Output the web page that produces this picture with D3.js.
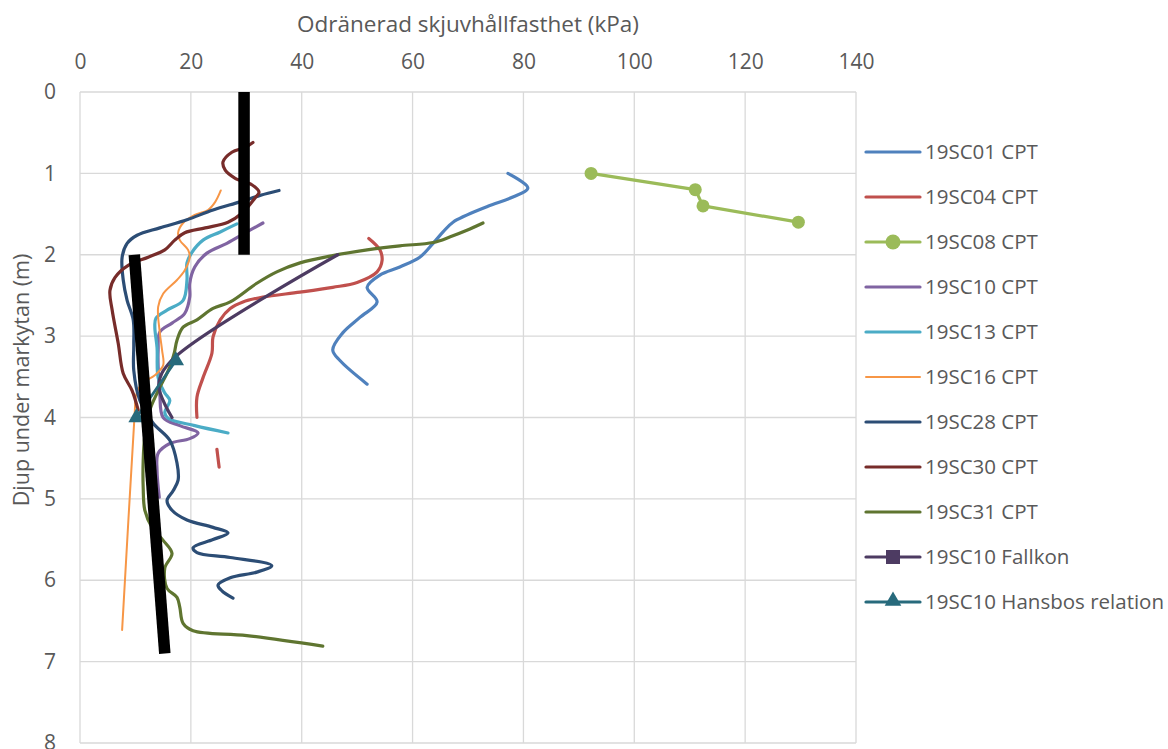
<!DOCTYPE html>
<html>
<head>
<meta charset="utf-8">
<script src="https://cdn.jsdelivr.net/npm/d3@7"></script>
<style>
  html,body{margin:0;padding:0;background:#fff;}
  svg{display:block;font-family:"Open Sans",sans-serif;}
  .tick text{fill:#595959;}
</style>
</head>
<body>
<svg id="chart" width="1168" height="749"></svg>
<script>
// depth (m), undrained shear strength (kPa)
const sc01 = [[1.00,77.2],[1.18,80.8],[1.29,78.1],[1.41,73.4],[1.60,67.3],[1.72,65.5],[1.86,63.7],[2.03,61.3],[2.15,57.7],[2.25,54.1],[2.40,51.8],[2.58,53.6],[2.77,50.5],[2.96,47.4],[3.17,45.6],[3.30,46.9],[3.59,51.8]];
const sc04 = [[1.80,52.1],[1.94,54.1],[2.07,54.5],[2.21,53.6],[2.34,50.0],[2.40,45.6],[2.46,39.7],[2.52,33.0],[2.58,29.4],[2.66,27.1],[2.80,25.3],[3.01,24.0],[3.21,23.8],[3.51,22.2],[3.75,21.1],[4.00,21.1],[4.20,null],[4.39,24.7],[4.61,25.1]];
const sc08 = [[1.0,92.2],[1.2,111.0],[1.4,112.4],[1.6,129.6]];
const sc10 = [[1.61,33.0],[1.72,30.1],[1.86,26.5],[1.98,22.9],[2.15,20.7],[2.35,19.8],[2.52,19.8],[2.72,18.9],[2.84,16.6],[2.95,14.4],[3.17,14.1],[3.38,14.1],[3.70,14.4],[4.00,15.0],[4.10,18.0],[4.19,21.3],[4.26,19.8],[4.32,16.2],[4.44,14.1],[4.65,13.9],[4.98,14.3]];
const sc13 = [[1.62,28.3],[1.72,25.3],[1.82,22.2],[1.97,20.2],[2.10,19.3],[2.31,19.3],[2.56,18.6],[2.68,15.7],[2.78,13.7],[2.89,13.5],[3.14,13.9],[3.51,14.1],[3.70,15.3],[3.79,16.2],[3.94,15.3],[4.01,15.9],[4.10,20.7],[4.19,26.7]];
const sc16 = [[1.21,25.4],[1.35,24.4],[1.45,23.1],[1.51,20.7],[1.61,18.6],[1.73,17.7],[1.82,18.0],[1.94,19.5],[2.03,19.8],[2.19,18.9],[2.31,17.5],[2.48,15.0],[2.64,14.1],[2.96,14.4],[3.17,14.8],[3.36,15.0],[3.48,13.5],[3.58,11.2],[3.73,10.1],[3.91,9.9],[6.61,7.6]];
const sc28 = [[1.21,35.9],[1.27,32.5],[1.35,28.9],[1.45,24.0],[1.57,19.3],[1.67,14.4],[1.76,10.3],[1.86,8.5],[2.03,7.6],[2.31,7.8],[2.56,8.5],[2.80,9.6],[3.11,9.7],[3.42,9.7],[3.79,10.8],[4.07,13.2],[4.28,16.2],[4.56,17.5],[4.77,17.7],[4.90,16.8],[5.02,15.7],[5.14,16.6],[5.26,19.3],[5.35,24.0],[5.42,26.7],[5.50,24.0],[5.60,20.4],[5.66,21.1],[5.72,27.1],[5.82,34.6],[5.90,31.9],[5.97,27.1],[6.06,24.9],[6.13,25.6],[6.22,27.6]];
const sc30 = [[0.62,31.2],[0.68,29.8],[0.74,27.4],[0.86,25.8],[0.96,26.2],[1.06,28.0],[1.14,31.0],[1.23,32.3],[1.30,31.6],[1.49,29.2],[1.60,26.7],[1.67,22.6],[1.73,18.9],[1.82,17.1],[1.94,15.3],[2.03,12.3],[2.13,8.7],[2.28,6.3],[2.44,5.4],[2.68,5.8],[3.09,6.9],[3.46,7.8],[3.67,9.4],[3.91,10.5]];
const sc31 = [[1.61,72.7],[1.70,69.8],[1.78,66.8],[1.85,63.7],[1.89,57.7],[1.94,51.8],[2.01,45.6],[2.10,39.7],[2.21,35.5],[2.35,31.9],[2.58,27.1],[2.66,24.0],[2.80,21.1],[2.89,18.6],[3.05,17.5],[3.21,17.0],[3.38,16.2],[3.70,13.9],[3.91,12.6],[4.22,11.7],[4.53,11.4],[4.86,11.4],[5.14,11.7],[5.35,13.0],[5.51,15.0],[5.67,16.6],[5.85,15.3],[6.10,15.7],[6.21,17.5],[6.33,18.0],[6.53,18.6],[6.62,20.4],[6.68,30.1],[6.81,43.8]];
const sc10Fallkon = [[2.0,46.5],[3.3,16.5],[3.6,14.2],[4.0,16.6]];
const sc10Hansbo = [[3.3,17.3],[4.0,10.2]];
// hand drawn black interpretation lines
const refLineA = [[0.0,29.6],[2.0,29.6]];
const refLineB = [[2.0,9.8],[6.9,15.3]];

const xTicks = [0,20,40,60,80,100,120,140];
const yTicks = [0,1,2,3,4,5,6,7,8];

const series = [
  {name:"19SC01 CPT", data:sc01, color:"#4F81BD", width:3.2, smooth:true},
  {name:"19SC04 CPT", data:sc04, color:"#C0504D", width:3.2, smooth:true},
  {name:"19SC08 CPT", data:sc08, color:"#9BBB59", width:3.2, smooth:false, marker:"circle"},
  {name:"19SC10 CPT", data:sc10, color:"#8064A2", width:3.2, smooth:true},
  {name:"19SC13 CPT", data:sc13, color:"#4BACC6", width:3.2, smooth:true},
  {name:"19SC16 CPT", data:sc16, color:"#F79646", width:2, smooth:true},
  {name:"19SC28 CPT", data:sc28, color:"#2C4D75", width:3.2, smooth:true},
  {name:"19SC30 CPT", data:sc30, color:"#772C2A", width:3.2, smooth:true},
  {name:"19SC31 CPT", data:sc31, color:"#5F7530", width:3.2, smooth:true},
  {name:"19SC10 Fallkon", data:sc10Fallkon, color:"#4D3B62", width:3.2, smooth:true, legendMarker:"square"},
  {name:"19SC10 Hansbos relation", data:sc10Hansbo, color:"#276A7C", width:2.8, smooth:false, marker:"triangle"}
];

const svg = d3.select("#chart");
const pLeft=80, pRight=856, pTop=92, pBottom=743;
const x = d3.scaleLinear().domain([0,140]).range([pLeft,pRight]);
const y = d3.scaleLinear().domain([0,8]).range([pTop,pBottom]);

// grid
const grid = svg.append("g");
grid.selectAll("line.v").data(xTicks).enter().append("line")
  .attr("x1",d=>x(d)).attr("x2",d=>x(d)).attr("y1",pTop).attr("y2",pBottom)
  .attr("stroke","#D9D9D9").attr("stroke-width",1.3);
grid.selectAll("line.h").data(yTicks).enter().append("line")
  .attr("y1",d=>y(d)).attr("y2",d=>y(d)).attr("x1",pLeft).attr("x2",pRight)
  .attr("stroke","#D9D9D9").attr("stroke-width",1.3);

// axes
const xAxis = svg.append("g").attr("transform",`translate(0,${pTop})`)
  .call(d3.axisTop(x).tickValues(xTicks).tickSize(0).tickPadding(23));
const yAxis = svg.append("g").attr("transform",`translate(${pLeft},0)`)
  .call(d3.axisLeft(y).tickValues(yTicks).tickSize(0).tickPadding(24));
[xAxis,yAxis].forEach(a=>{
  a.select(".domain").remove();
  a.selectAll("text").style("font-size","21px").attr("font-family","Open Sans");
});

svg.append("text").attr("x",468).attr("y",32).attr("text-anchor","middle")
  .attr("fill","#595959").style("font-size","22.5px")
  .text("Odränerad skjuvhållfasthet (kPa)");
svg.append("text").attr("transform","translate(29,380) rotate(-90)").attr("text-anchor","middle")
  .attr("fill","#595959").style("font-size","21.5px")
  .text("Djup under markytan (m)");

// series
const plot = svg.append("g");
series.forEach(s=>{
  const line = d3.line()
    .defined(d=>d[1]!=null)
    .x(d=>x(d[1])).y(d=>y(d[0]))
    .curve(s.smooth ? d3.curveCatmullRom.alpha(0.5) : d3.curveLinear);
  plot.append("path").datum(s.data)
    .attr("d",line).attr("fill","none")
    .attr("stroke",s.color).attr("stroke-width",s.width)
    .attr("stroke-linejoin","round").attr("stroke-linecap","round");
  if(s.marker==="circle"){
    plot.selectAll(null).data(s.data).enter().append("circle")
      .attr("cx",d=>x(d[1])).attr("cy",d=>y(d[0])).attr("r",6.5).attr("fill",s.color);
  }
  if(s.marker==="triangle"){
    plot.selectAll(null).data(s.data).enter().append("path")
      .attr("d",d3.symbol(d3.symbolTriangle,115))
      .attr("transform",d=>`translate(${x(d[1])},${y(d[0])})`).attr("fill",s.color);
  }
});

// black thick lines on top
const straight = d3.line().x(d=>x(d[1])).y(d=>y(d[0]));
[refLineA,refLineB].forEach(r=>{
  plot.append("path").datum(r).attr("d",straight)
    .attr("stroke","#000").attr("stroke-width",11.5).attr("fill","none");
});

// legend
const lg = svg.append("g");
series.forEach((s,i)=>{
  const ly = 152 + i*45;
  const g = lg.append("g");
  g.append("line").attr("x1",866).attr("x2",920).attr("y1",ly).attr("y2",ly)
    .attr("stroke",s.color).attr("stroke-width",s.width===2?2:3.2).attr("stroke-linecap","round");
  if(s.marker==="circle") g.append("circle").attr("cx",893).attr("cy",ly).attr("r",7.5).attr("fill",s.color);
  if(s.legendMarker==="square") g.append("rect").attr("x",886).attr("y",ly-7).attr("width",14).attr("height",14).attr("fill",s.color);
  if(s.marker==="triangle") g.append("path").attr("d",d3.symbol(d3.symbolTriangle,120))
    .attr("transform",`translate(893,${ly-1})`).attr("fill",s.color);
  g.append("text").attr("x",925).attr("y",ly).attr("dy","0.35em")
    .attr("fill","#595959").style("font-size","20.5px").text(s.name);
});
</script>
</body>
</html>
